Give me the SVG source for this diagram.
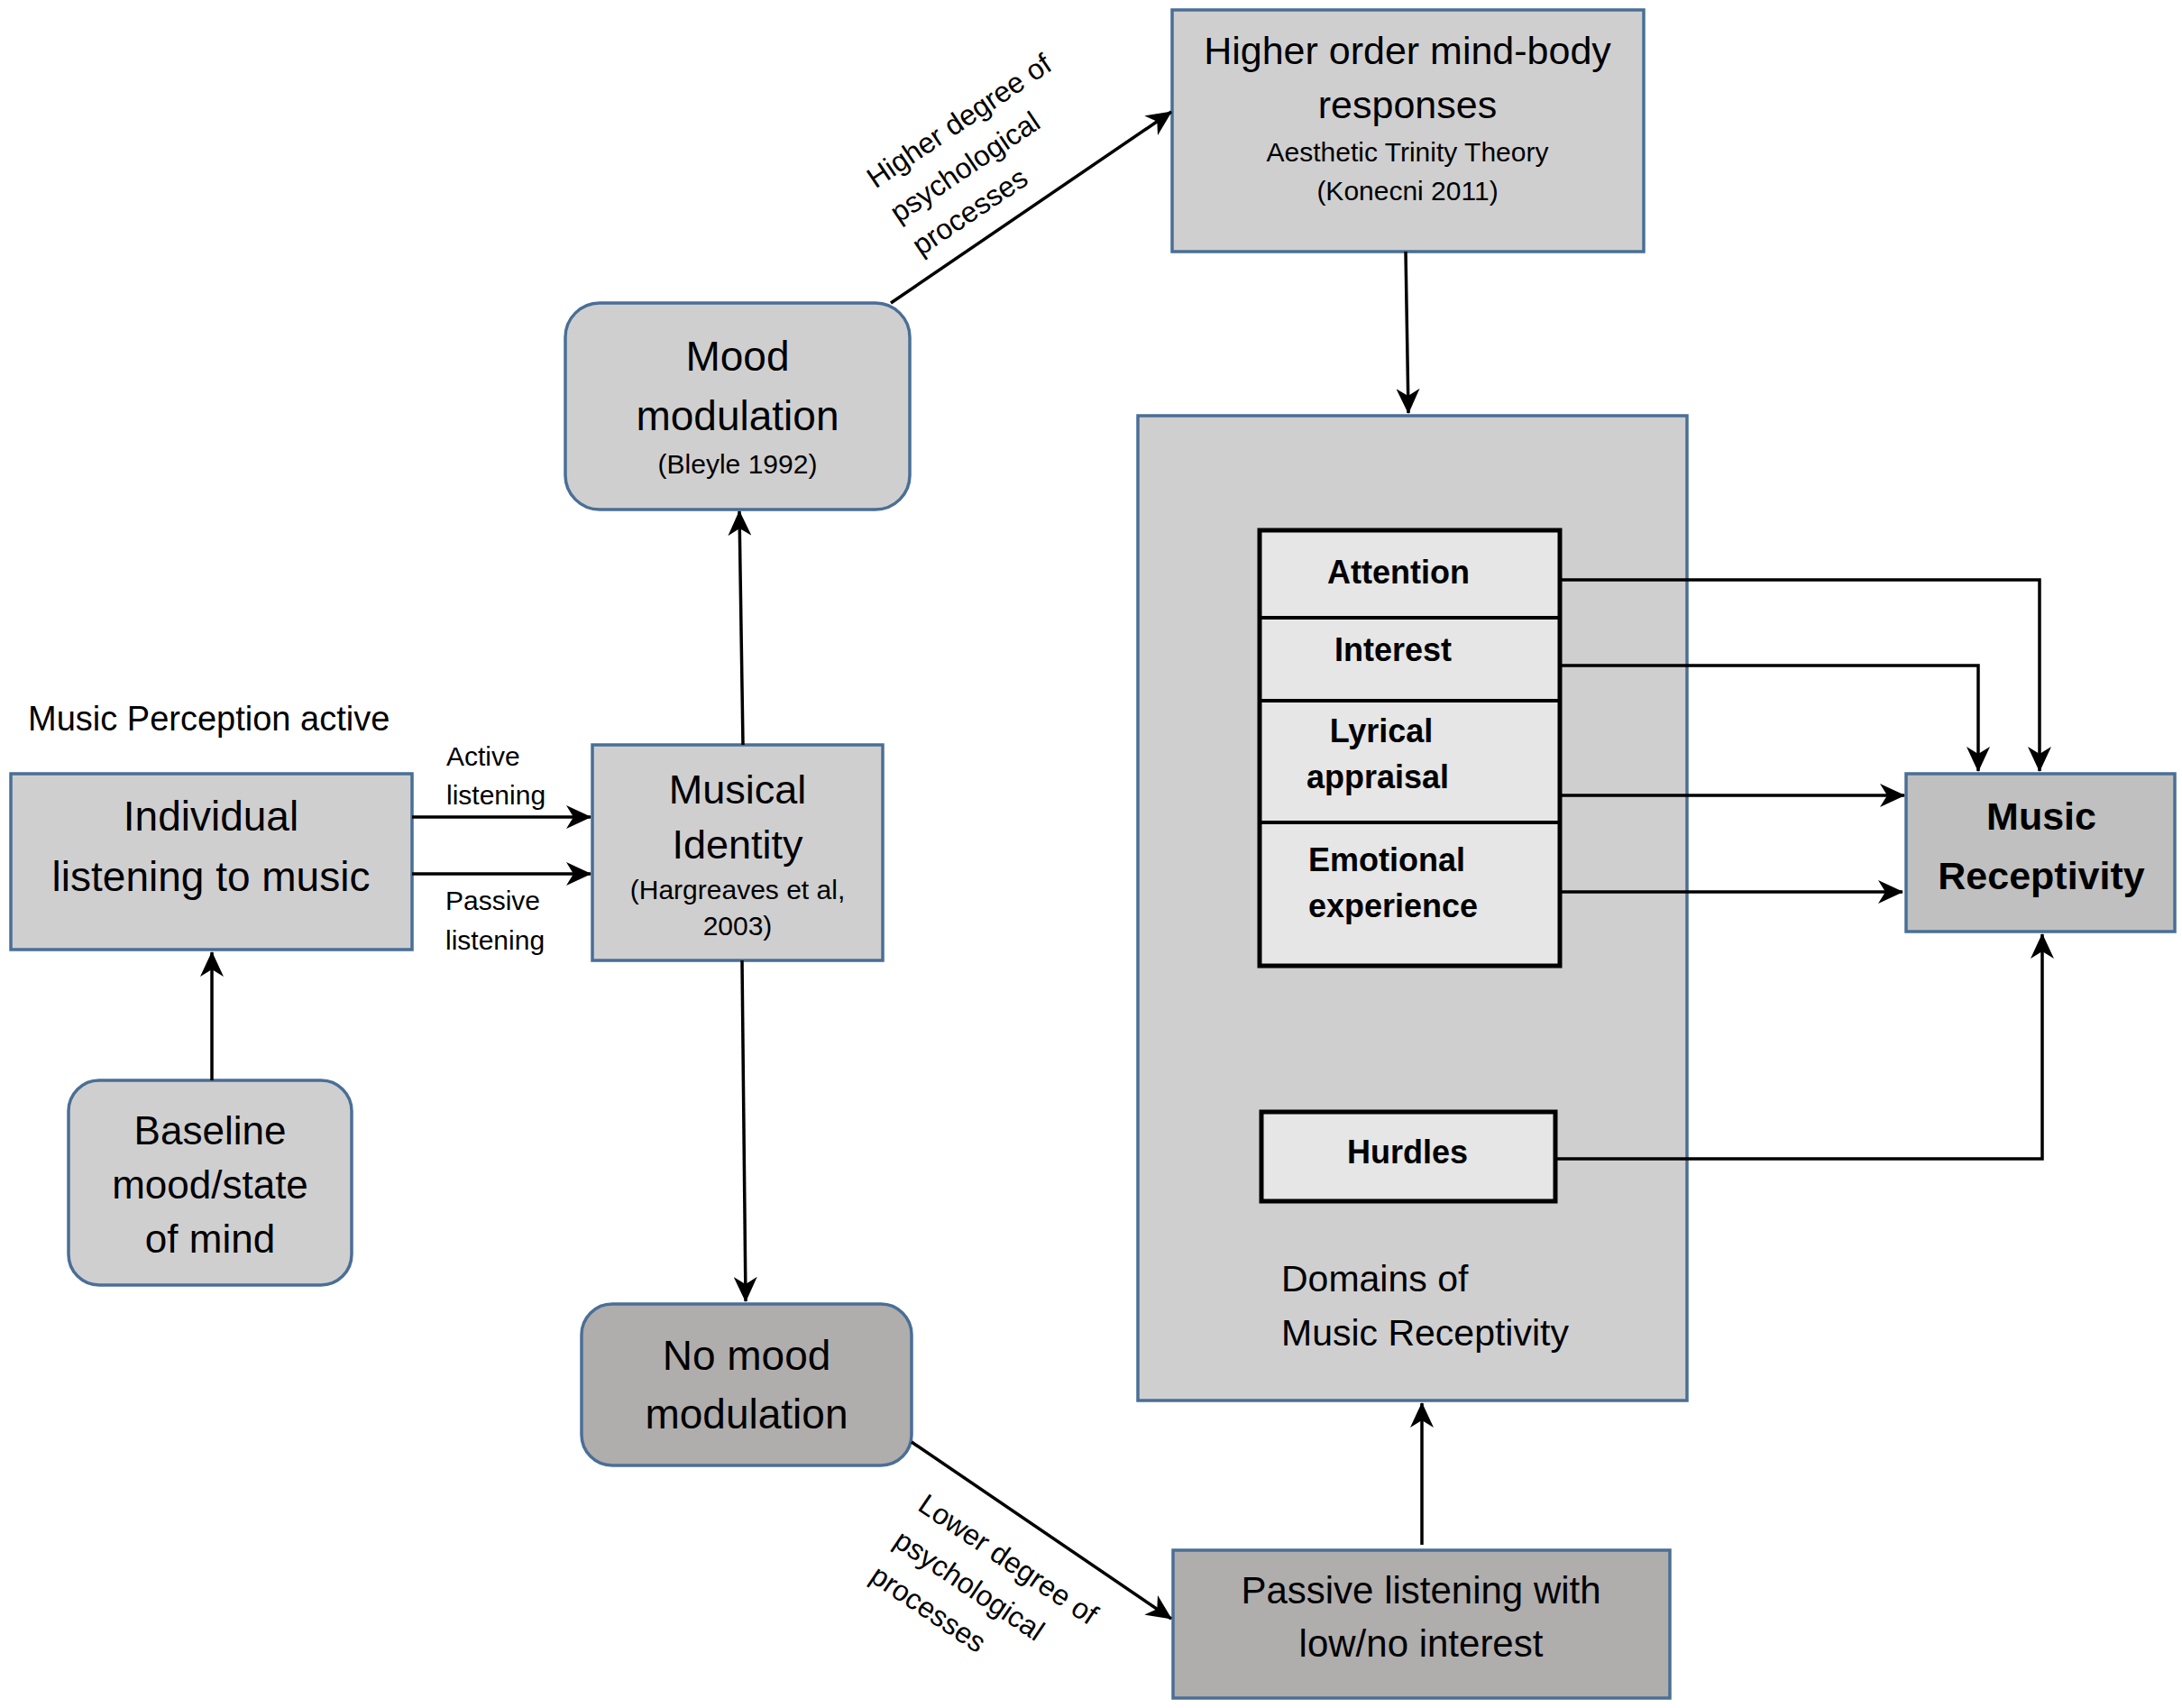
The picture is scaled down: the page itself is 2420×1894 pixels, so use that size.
<svg xmlns="http://www.w3.org/2000/svg" width="2420" height="1894" viewBox="0 0 2420 1894">
<defs>
<marker id="ah" markerUnits="userSpaceOnUse" markerWidth="28" markerHeight="26" refX="27" refY="13" orient="auto">
<path d="M0,0 L28,13 L0,26 L8,13 Z" fill="#000"/>
</marker>
<style>
text{font-family:"Liberation Sans",Arial,sans-serif;fill:#000}
.m{text-anchor:middle}
.b{font-weight:bold}
.box{fill:#d0cfd0;stroke:#4a6f96;stroke-width:3.5}
.dark{fill:#b0adad;stroke:#4a6f96;stroke-width:3.5}
.mr{fill:#c0c0c0;stroke:#4a6f96;stroke-width:3.5}
.inner{fill:#e6e6e6;stroke:#000;stroke-width:5}
.c{fill:none;stroke:#000;stroke-width:3.5}
.ca{fill:none;stroke:#000;stroke-width:3.5;marker-end:url(#ah)}
</style>
</defs>
<rect width="2420" height="1894" fill="#fff"/>

<text x="31" y="810" font-size="38">Music Perception active</text>

<g id="individual">
<rect class="box" x="12" y="858" width="445" height="195"/>
<text class="m" x="234" y="921" font-size="46">Individual</text>
<text class="m" x="234" y="988" font-size="46">listening to music</text>
</g>

<g id="baseline">
<rect class="box" x="76" y="1198" width="314" height="227" rx="34"/>
<text class="m" x="233" y="1269" font-size="44">Baseline</text>
<text class="m" x="233" y="1329" font-size="44">mood/state</text>
<text class="m" x="233" y="1389" font-size="44">of mind</text>
</g>

<g id="musical-identity">
<rect class="box" x="657" y="826" width="322" height="239"/>
<text class="m" x="818" y="891" font-size="45">Musical</text>
<text class="m" x="818" y="952" font-size="45">Identity</text>
<text class="m" x="818" y="997" font-size="30">(Hargreaves et al,</text>
<text class="m" x="818" y="1037" font-size="30">2003)</text>
</g>

<g id="mood-modulation">
<rect class="box" x="627" y="336" width="382" height="229" rx="38"/>
<text class="m" x="818" y="411" font-size="46">Mood</text>
<text class="m" x="818" y="477" font-size="46">modulation</text>
<text class="m" x="818" y="525" font-size="30">(Bleyle 1992)</text>
</g>

<g id="higher-order">
<rect class="box" x="1300" y="11" width="523" height="268"/>
<text class="m" x="1561" y="71" font-size="43">Higher order mind-body</text>
<text class="m" x="1561" y="131" font-size="43">responses</text>
<text class="m" x="1561" y="179" font-size="30">Aesthetic Trinity Theory</text>
<text class="m" x="1561" y="222" font-size="30">(Konecni 2011)</text>
</g>

<g id="domains">
<rect class="box" x="1262" y="461" width="609" height="1092"/>
<text x="1421" y="1432" font-size="41">Domains of</text>
<text x="1421" y="1492" font-size="41">Music Receptivity</text>
</g>

<g id="domain-stack">
<rect class="inner" x="1397" y="588" width="333" height="483"/>
<line x1="1397" y1="685" x2="1730" y2="685" stroke="#000" stroke-width="4"/>
<line x1="1397" y1="777" x2="1730" y2="777" stroke="#000" stroke-width="4"/>
<line x1="1397" y1="912" x2="1730" y2="912" stroke="#000" stroke-width="4"/>
<text class="m b" x="1551" y="647" font-size="36">Attention</text>
<text class="m b" x="1545" y="733" font-size="36">Interest</text>
<text class="m b" x="1532" y="823" font-size="36">Lyrical</text>
<text class="m b" x="1528" y="874" font-size="36">appraisal</text>
<text class="m b" x="1538" y="966" font-size="36">Emotional</text>
<text class="m b" x="1545" y="1017" font-size="36">experience</text>
</g>

<g id="hurdles">
<rect class="inner" x="1399" y="1233" width="326" height="99"/>
<text class="m b" x="1561" y="1290" font-size="36">Hurdles</text>
</g>

<g id="music-receptivity">
<rect class="mr" x="2114" y="858" width="298" height="175"/>
<text class="m b" x="2264" y="920" font-size="43">Music</text>
<text class="m b" x="2264" y="986" font-size="43">Receptivity</text>
</g>

<g id="no-mood">
<rect class="dark" x="645" y="1446" width="366" height="179" rx="34"/>
<text class="m" x="828" y="1519" font-size="46">No mood</text>
<text class="m" x="828" y="1584" font-size="46">modulation</text>
</g>

<g id="passive-low">
<rect class="dark" x="1301" y="1719" width="551" height="164"/>
<text class="m" x="1576" y="1778" font-size="42">Passive listening with</text>
<text class="m" x="1576" y="1837" font-size="42">low/no interest</text>
</g>

<g id="connectors">
<line class="ca" x1="235" y1="1198" x2="235" y2="1056"/>
<line class="ca" x1="457" y1="906" x2="655" y2="906"/>
<line class="ca" x1="457" y1="969" x2="655" y2="969"/>
<line class="ca" x1="824" y1="826" x2="820" y2="567"/>
<line class="ca" x1="823" y1="1065" x2="827" y2="1443"/>
<line class="ca" x1="988" y1="336" x2="1299" y2="124"/>
<line class="ca" x1="1559" y1="279" x2="1562" y2="458"/>
<line class="ca" x1="1011" y1="1599" x2="1299" y2="1795"/>
<line class="ca" x1="1577" y1="1713" x2="1577" y2="1556"/>
<polyline class="ca" points="1730,643 2262,643 2262,855"/>
<polyline class="ca" points="1730,738 2194,738 2194,855"/>
<line class="ca" x1="1730" y1="882" x2="2112" y2="882"/>
<line class="ca" x1="1730" y1="989" x2="2110" y2="989"/>
<polyline class="ca" points="1725,1285 2265,1285 2265,1036"/>
<g transform="translate(1069,187) rotate(-34)">
<text x="-94" y="-36" font-size="32">Higher degree of</text>
<text x="-94" y="10" font-size="32">psychological</text>
<text x="-94" y="54" font-size="32">processes</text>
</g>
<g transform="translate(1072,1757) rotate(34)">
<text x="-93" y="-38" font-size="32">Lower degree of</text>
<text x="-93" y="10" font-size="32">psychological</text>
<text x="-93" y="57" font-size="32">processes</text>
</g>
<text x="495" y="849" font-size="30">Active</text>
<text x="495" y="892" font-size="30">listening</text>
<text x="494" y="1009" font-size="30">Passive</text>
<text x="494" y="1053" font-size="30">listening</text>
</g>
</svg>
